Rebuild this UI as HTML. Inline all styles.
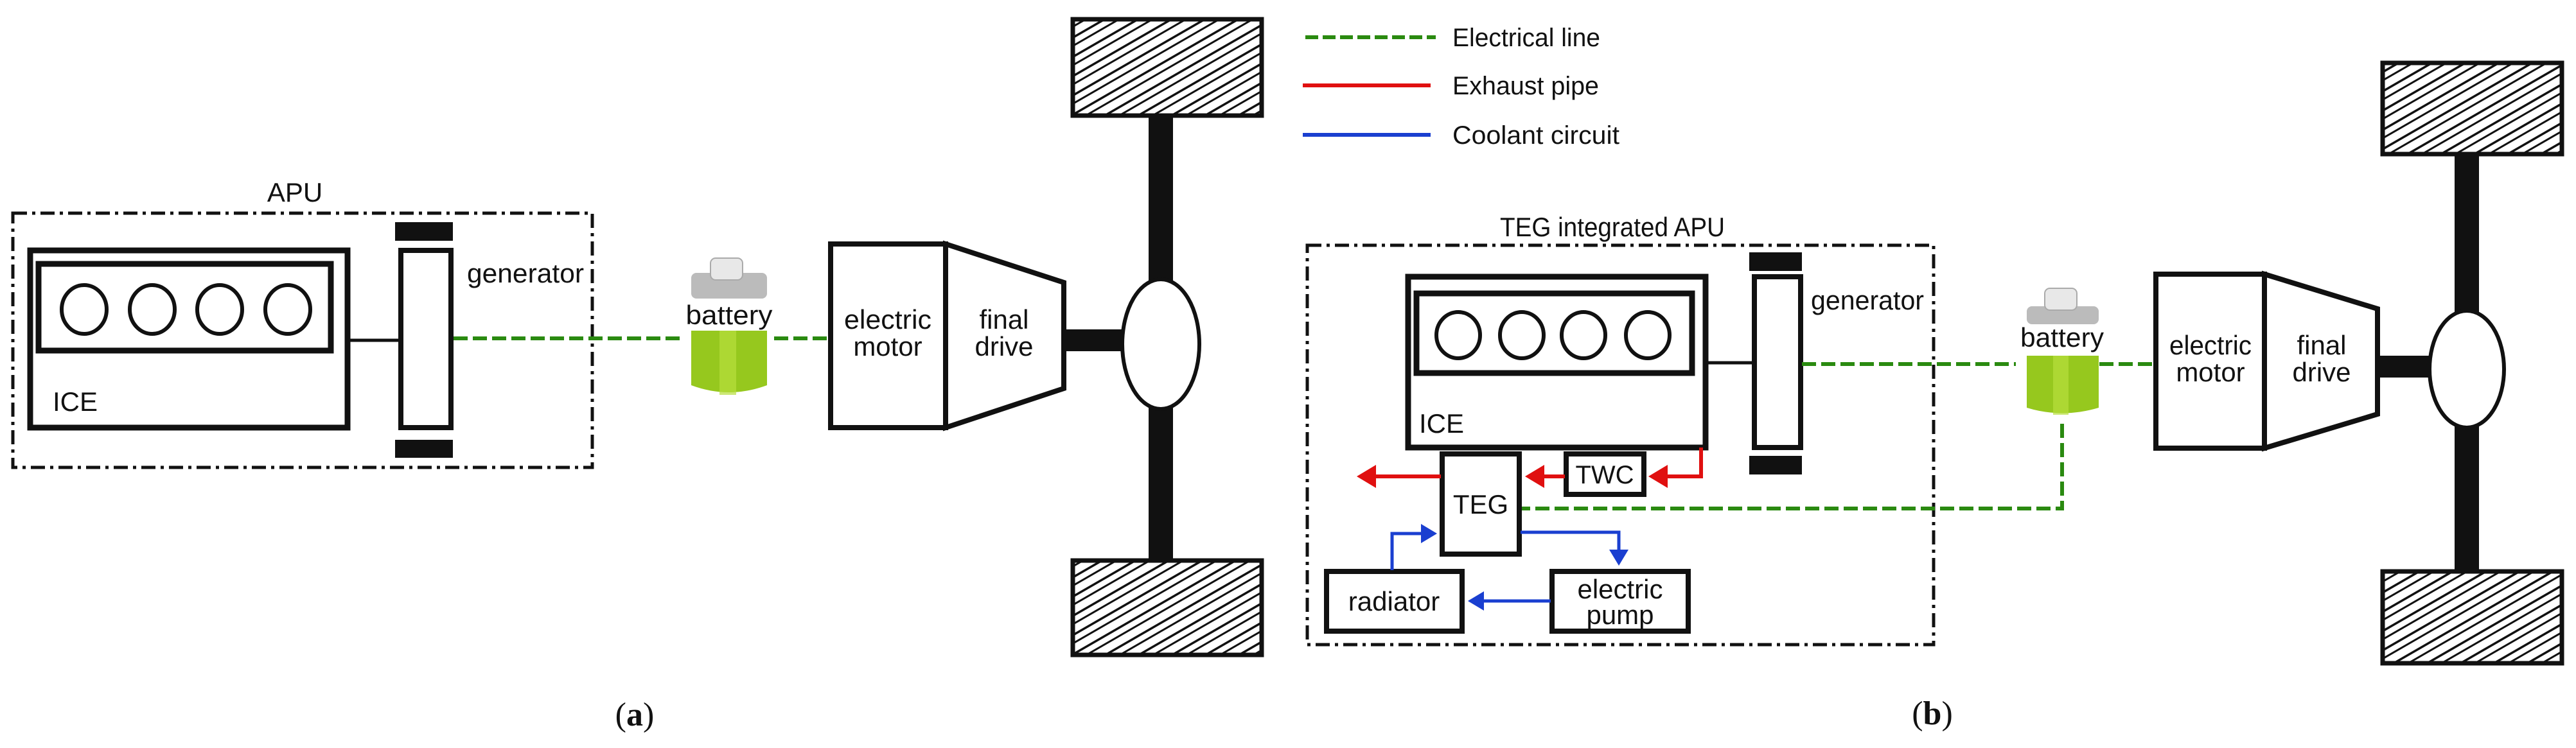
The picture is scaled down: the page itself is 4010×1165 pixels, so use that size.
<!DOCTYPE html>
<html><head><meta charset="utf-8"><style>
html,body{margin:0;padding:0;background:#fff;}
svg{display:block;}
text{font-family:"Liberation Sans",sans-serif;fill:#111;}
</style></head><body>
<svg width="4010" height="1165" viewBox="0 0 4010 1165" xmlns="http://www.w3.org/2000/svg">
<defs>
<pattern id="hatch" width="26" height="26" patternUnits="userSpaceOnUse" patternTransform="rotate(60)">
<rect width="26" height="26" fill="#fff"/>
<line x1="0" y1="0" x2="0" y2="26" stroke="#111" stroke-width="7"/>
<line x1="13" y1="0" x2="13" y2="26" stroke="#111" stroke-width="3"/>
</pattern>
<marker id="ar" markerWidth="6" markerHeight="6" refX="4" refY="3" orient="auto" markerUnits="strokeWidth"><path d="M0,0 L5,3 L0,6 z" fill="#e01010"/></marker>
<marker id="ab" markerWidth="6" markerHeight="6" refX="4" refY="3" orient="auto" markerUnits="strokeWidth"><path d="M0,0 L5,3 L0,6 z" fill="#1a3fd0"/></marker>
</defs>
<rect width="4010" height="1165" fill="#fff"/>

<!-- ===== Panel A ===== -->
<rect x="20" y="332" width="902" height="396" fill="none" stroke="#111" stroke-width="5" stroke-dasharray="22,8,5,8"/>
<text x="459" y="314" font-size="42" text-anchor="middle">APU</text>
<rect x="47" y="390" width="494" height="276" fill="#fff" stroke="#111" stroke-width="9"/>
<rect x="60" y="411" width="455" height="135" fill="#fff" stroke="#111" stroke-width="9"/>
<g fill="none" stroke="#111" stroke-width="6">
<ellipse cx="131" cy="482" rx="35" ry="38"/><ellipse cx="237" cy="482" rx="35" ry="38"/>
<ellipse cx="342" cy="482" rx="35" ry="38"/><ellipse cx="448" cy="482" rx="35" ry="38"/>
</g>
<text x="82" y="640" font-size="42">ICE</text>
<line x1="541" y1="530" x2="624" y2="530" stroke="#111" stroke-width="5"/>
<rect x="624" y="390" width="78" height="276" fill="#fff" stroke="#111" stroke-width="8"/>
<rect x="615" y="346" width="90" height="29" fill="#111"/>
<rect x="615" y="685" width="90" height="28" fill="#111"/>
<text x="727" y="440" font-size="42" textLength="182" lengthAdjust="spacingAndGlyphs">generator</text>
<line x1="706" y1="527" x2="1060" y2="527" stroke="#2a8a10" stroke-width="6" stroke-dasharray="22,8"/>
<line x1="1205" y1="527" x2="1290" y2="527" stroke="#2a8a10" stroke-width="6" stroke-dasharray="22,8"/>
<!-- battery a -->
<rect x="1076" y="425" width="118" height="40" rx="8" fill="#bbb"/>
<rect x="1106" y="402" width="50" height="34" rx="8" fill="#e8e8e8" stroke="#aaa" stroke-width="2"/>
<text x="1135" y="505" font-size="42" text-anchor="middle" textLength="135" lengthAdjust="spacingAndGlyphs">battery</text>
<path d="M1076,515 L1194,515 L1194,600 Q1135,622 1076,600 Z" fill="#96c81e"/>
<rect x="1120" y="515" width="26" height="100" fill="#b6de3c" opacity="0.7"/>
<!-- motor a -->
<rect x="1293" y="380" width="179" height="286" fill="#fff" stroke="#111" stroke-width="8"/>
<path d="M1472,380 L1656,440 L1656,605 L1472,666 Z" fill="#fff" stroke="#111" stroke-width="8"/>
<text x="1382" y="512" font-size="42" text-anchor="middle" textLength="136" lengthAdjust="spacingAndGlyphs">electric</text>
<text x="1382" y="554" font-size="42" text-anchor="middle">motor</text>
<text x="1563" y="512" font-size="42" text-anchor="middle">final</text>
<text x="1563" y="554" font-size="42" text-anchor="middle">drive</text>
<rect x="1656" y="513" width="95" height="34" fill="#111"/>
<rect x="1788" y="178" width="38" height="696" fill="#111"/>
<ellipse cx="1807" cy="536" rx="60" ry="101" fill="#fff" stroke="#111" stroke-width="6"/>
<rect x="1670" y="30" width="294" height="150" fill="url(#hatch)" stroke="#111" stroke-width="7"/>
<rect x="1670" y="873" width="294" height="147" fill="url(#hatch)" stroke="#111" stroke-width="7"/>
<text x="988" y="1130" font-size="52" text-anchor="middle" style="font-family:'Liberation Serif',serif">(<tspan font-weight="bold">a</tspan>)</text>

<!-- ===== Panel B ===== -->
<line x1="2032" y1="58" x2="2235" y2="58" stroke="#2a8a10" stroke-width="6" stroke-dasharray="20,7"/>
<text x="2261" y="72" font-size="40" textLength="230" lengthAdjust="spacingAndGlyphs">Electrical line</text>
<line x1="2028" y1="133" x2="2227" y2="133" stroke="#e01010" stroke-width="6"/>
<text x="2261" y="147" font-size="40" textLength="228" lengthAdjust="spacingAndGlyphs">Exhaust pipe</text>
<line x1="2028" y1="210" x2="2227" y2="210" stroke="#1a3fd0" stroke-width="6"/>
<text x="2261" y="224" font-size="40" textLength="260" lengthAdjust="spacingAndGlyphs">Coolant circuit</text>

<rect x="2035" y="382" width="975" height="622" fill="none" stroke="#111" stroke-width="5" stroke-dasharray="22,8,5,8"/>
<text x="2510" y="368" font-size="42" text-anchor="middle" textLength="350" lengthAdjust="spacingAndGlyphs">TEG integrated APU</text>
<rect x="2192" y="431" width="463" height="266" fill="#fff" stroke="#111" stroke-width="9"/>
<rect x="2205" y="457" width="429" height="124" fill="#fff" stroke="#111" stroke-width="9"/>
<g fill="none" stroke="#111" stroke-width="6">
<ellipse cx="2270" cy="522" rx="34" ry="36"/><ellipse cx="2369" cy="522" rx="34" ry="36"/>
<ellipse cx="2465" cy="522" rx="34" ry="36"/><ellipse cx="2565" cy="522" rx="34" ry="36"/>
</g>
<text x="2209" y="674" font-size="42">ICE</text>
<line x1="2655" y1="565" x2="2731" y2="565" stroke="#111" stroke-width="5"/>
<rect x="2731" y="431" width="72" height="266" fill="#fff" stroke="#111" stroke-width="8"/>
<rect x="2723" y="393" width="82" height="29" fill="#111"/>
<rect x="2723" y="710" width="82" height="29" fill="#111"/>
<text x="2819" y="482" font-size="42" textLength="176" lengthAdjust="spacingAndGlyphs">generator</text>
<line x1="2805" y1="567" x2="3138" y2="567" stroke="#2a8a10" stroke-width="6" stroke-dasharray="22,8"/>
<line x1="3268" y1="567" x2="3354" y2="567" stroke="#2a8a10" stroke-width="6" stroke-dasharray="22,8"/>
<!-- battery b -->
<rect x="3155" y="477" width="112" height="28" rx="8" fill="#bbb"/>
<rect x="3183" y="449" width="50" height="34" rx="8" fill="#e8e8e8" stroke="#aaa" stroke-width="2"/>
<text x="3210" y="540" font-size="42" text-anchor="middle" textLength="130" lengthAdjust="spacingAndGlyphs">battery</text>
<path d="M3155,554 L3267,554 L3267,635 Q3210,652 3155,635 Z" fill="#96c81e"/>
<rect x="3196" y="554" width="24" height="92" fill="#b6de3c" opacity="0.7"/>
<polyline points="3210,660 3210,792 2368,792" fill="none" stroke="#2a8a10" stroke-width="6" stroke-dasharray="22,8"/>
<!-- motor b -->
<rect x="3356" y="427" width="169" height="271" fill="#fff" stroke="#111" stroke-width="8"/>
<path d="M3525,427 L3701,481 L3701,645 L3525,698 Z" fill="#fff" stroke="#111" stroke-width="8"/>
<text x="3441" y="552" font-size="42" text-anchor="middle" textLength="128" lengthAdjust="spacingAndGlyphs">electric</text>
<text x="3441" y="594" font-size="42" text-anchor="middle">motor</text>
<text x="3614" y="552" font-size="42" text-anchor="middle">final</text>
<text x="3614" y="594" font-size="42" text-anchor="middle">drive</text>
<rect x="3701" y="554" width="86" height="34" fill="#111"/>
<rect x="3821" y="238" width="38" height="655" fill="#111"/>
<ellipse cx="3840" cy="575" rx="58" ry="91" fill="#fff" stroke="#111" stroke-width="6"/>
<rect x="3709" y="98" width="279" height="142" fill="url(#hatch)" stroke="#111" stroke-width="7"/>
<rect x="3709" y="890" width="279" height="143" fill="url(#hatch)" stroke="#111" stroke-width="7"/>

<!-- TEG etc -->
<rect x="2245" y="707" width="120" height="156" fill="#fff" stroke="#111" stroke-width="8"/>
<text x="2305" y="800" font-size="42" text-anchor="middle">TEG</text>
<rect x="2438" y="707" width="121" height="63" fill="#fff" stroke="#111" stroke-width="8"/>
<text x="2498" y="753" font-size="40" text-anchor="middle">TWC</text>
<rect x="2065" y="890" width="211" height="93" fill="#fff" stroke="#111" stroke-width="8"/>
<text x="2170" y="951" font-size="42" text-anchor="middle">radiator</text>
<rect x="2416" y="890" width="212" height="93" fill="#fff" stroke="#111" stroke-width="8"/>
<text x="2522" y="932" font-size="42" text-anchor="middle">electric</text>
<text x="2522" y="972" font-size="42" text-anchor="middle">pump</text>

<polyline points="2648,697 2648,742 2572,742" fill="none" stroke="#e01010" stroke-width="6" marker-end="url(#ar)"/>
<line x1="2436" y1="742" x2="2380" y2="742" stroke="#e01010" stroke-width="6" marker-end="url(#ar)"/>
<line x1="2243" y1="742" x2="2118" y2="742" stroke="#e01010" stroke-width="6" marker-end="url(#ar)"/>

<polyline points="2167,888 2167,831 2232,831" fill="none" stroke="#1a3fd0" stroke-width="5" marker-end="url(#ab)"/>
<polyline points="2367,829 2520,829 2520,876" fill="none" stroke="#1a3fd0" stroke-width="5" marker-end="url(#ab)"/>
<line x1="2414" y1="936" x2="2290" y2="936" stroke="#1a3fd0" stroke-width="5" marker-end="url(#ab)"/>

<text x="3008" y="1128" font-size="52" text-anchor="middle" style="font-family:'Liberation Serif',serif">(<tspan font-weight="bold">b</tspan>)</text>
</svg>
</body></html>
